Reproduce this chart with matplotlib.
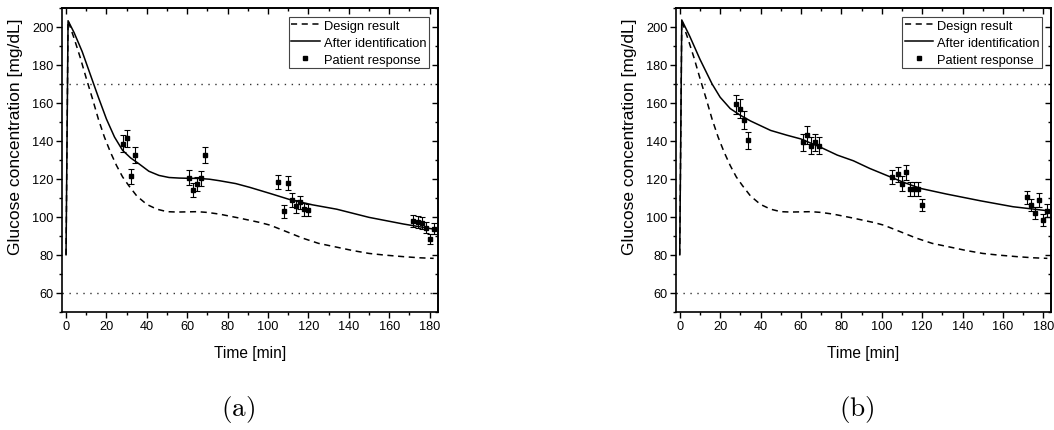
import matplotlib
matplotlib.use("Agg")
import matplotlib.pyplot as plt
from matplotlib.ticker import MultipleLocator
from matplotlib.lines import Line2D

plt.rcParams['font.family'] = ['Liberation Sans', 'DejaVu Sans']
plt.rcParams['mathtext.fontset'] = 'cm'

# ---------------- data ----------------
# Design result (same in both panels)
design_t = [0, 1, 4, 7, 10, 13, 16, 19, 22, 25, 28, 31, 35, 40, 45, 50, 55, 60, 65, 70,
            76, 85, 96, 101, 110, 117, 125, 134, 142, 150, 158, 167, 175, 182]
design_g = [80, 203.3, 194, 184, 173, 162.5, 151.5, 142, 134, 127, 121, 116.5, 111, 106.5,
            104, 102.7, 102.5, 102.6, 102.7, 102.3, 101.4, 99.5, 97, 95.6, 91.8, 88.8, 86,
            84, 82.2, 80.7, 79.8, 79, 78.4, 78.1]

# After identification, panel (a)
ident_a_t = [0, 1, 4, 8, 12, 16, 20, 24, 28, 32, 36, 41, 46, 51, 56, 60, 66, 71, 76, 84,
             91, 101, 111, 122, 134, 150, 167, 182]
ident_a_g = [80, 203.3, 197, 187, 175, 163, 151.5, 142, 135, 131, 128, 124, 121.8, 120.7,
             120.4, 120.3, 120.2, 119.8, 119, 117.5, 115.5, 112.3, 109, 106.3, 104, 99.7,
             96.2, 93.5]

# After identification, panel (b)
ident_b_t = [0, 1, 5, 10, 16, 20, 25, 30, 35, 45, 53, 60, 70, 78, 86, 94, 102, 110, 119,
             132, 149, 165, 182]
ident_b_g = [80, 203.7, 195, 183, 170, 163, 157, 153.5, 150.5, 145.5, 143, 141, 136.5,
             132.5, 129.5, 125.5, 122, 118.5, 115, 112, 108.4, 105.3, 103.2]

# Patient response measurement times (both panels)
patient_t = [28, 30, 32, 34, 61, 63, 65, 67, 69, 105, 108, 110, 112, 114, 116, 118, 120,
             172, 174, 176, 178, 180, 182]

patient_a_g = [138.6, 141.4, 121.3, 132.5, 120.5, 114, 117.2, 120.2, 132.5, 118.4, 102.8,
               117.7, 108.8, 105.5, 107.7, 103.9, 103.5, 97.6, 97.1, 96.9, 94.2, 88.3, 93.7]
patient_a_err = [4.4, 4.5, 3.9, 4.2, 3.9, 3.6, 3.8, 3.8, 4.2, 3.8, 3.3, 3.8, 3.5, 3.4, 3.4,
                 3.3, 3.3, 3.1, 3.1, 3.1, 3.0, 2.8, 3.0]

patient_b_g = [159.2, 157, 150.9, 140.2, 139.2, 143, 137.4, 139.2, 137.4, 121, 122.4, 117.5,
               123.4, 114.6, 114.5, 114.8, 106.2, 110.2, 106.2, 101.9, 108.9, 98.3, 103.2]
patient_b_err = [5.1, 5.0, 4.8, 4.5, 4.5, 4.6, 4.4, 4.5, 4.4, 3.9, 3.9, 3.8, 3.9, 3.7, 3.7,
                 3.7, 3.4, 3.5, 3.4, 3.3, 3.5, 3.1, 3.3]

limit_hi = 170
limit_lo = 60

x_ticks = [0, 20, 40, 60, 80, 100, 120, 140, 160, 180]
y_ticks = [60, 80, 100, 120, 140, 160, 180, 200]

# ---------------- figure ----------------
W, H = 1054, 431
fig = plt.figure(figsize=(W / 100, H / 100), dpi=100)

def px_axes(left, top, right, bottom):
    return fig.add_axes([left / W, 1 - bottom / H, (right - left) / W, (bottom - top) / H])

AX_T, AX_B = 9, 312.7
AX_W = 375.7
panels = [
    (px_axes(62, AX_T, 62 + AX_W, AX_B), ident_a_t, ident_a_g, patient_a_g, patient_a_err, '(a)', 238),
    (px_axes(675.7, AX_T, 675.7 + AX_W, AX_B), ident_b_t, ident_b_g, patient_b_g, patient_b_err, '(b)', 857),
]

for ax, it, ig, pg, pe, cap, capx in panels:
    ax.axhline(limit_hi, color='#333333', lw=1.0, ls=(0, (1, 4)))
    ax.axhline(limit_lo, color='#333333', lw=1.0, ls=(0, (1, 4)))
    ax.plot(design_t, design_g, color='black', lw=1.1, ls=(0, (4, 3)), label='Design result')
    ax.plot(it, ig, color='black', lw=1.1, label='After identification')
    ax.errorbar(patient_t, pg, yerr=pe, fmt='s', ms=3, color='black', ecolor='black',
                elinewidth=0.8, capsize=2.3, capthick=0.8, label='Patient response')

    ax.set_xlim(-2, 184)
    ax.set_ylim(50, 210)
    ax.set_xticks(x_ticks)
    ax.set_yticks(y_ticks)
    ax.xaxis.set_minor_locator(MultipleLocator(10))
    ax.yaxis.set_minor_locator(MultipleLocator(10))
    ax.tick_params(axis='both', which='major', direction='out', length=4, width=1.0,
                   labelsize=9.2, pad=2)
    ax.tick_params(axis='both', which='minor', direction='out', length=2.3, width=1.0)
    for sp in ax.spines.values():
        sp.set_linewidth(1.2)

    top = ax.secondary_xaxis('top')
    top.set_xticks(x_ticks)
    top.xaxis.set_minor_locator(MultipleLocator(10))
    top.tick_params(axis='x', which='major', direction='in', length=4, width=1.0, labeltop=False)
    top.tick_params(axis='x', which='minor', direction='in', length=2.3, width=1.0)
    top.spines['top'].set_linewidth(1.2)
    right = ax.secondary_yaxis('right')
    right.set_yticks(y_ticks)
    right.yaxis.set_minor_locator(MultipleLocator(10))
    right.tick_params(axis='y', which='major', direction='in', length=4, width=1.0, labelright=False)
    right.tick_params(axis='y', which='minor', direction='in', length=2.3, width=1.0)
    right.spines['right'].set_linewidth(1.2)

    ax.set_xlabel('Time [min]', fontsize=11.2, labelpad=9)
    ax.set_ylabel('Glucose concentration [mg/dL]', fontsize=12.5)
    ax.yaxis.set_label_coords(-39 / AX_W, (AX_B - 137) / (AX_B - AX_T))

    handles, labels = ax.get_legend_handles_labels()
    handles[2] = Line2D([], [], ls='none', marker='s', ms=3, color='black')
    leg = ax.legend(handles, labels, loc='upper right', fontsize=9.3, frameon=True,
                    fancybox=False, edgecolor='#444444', framealpha=1, borderpad=0.2,
                    labelspacing=0.38, handlelength=2.2, handletextpad=0.3,
                    borderaxespad=0.7)
    leg.get_frame().set_linewidth(0.8)

    fig.text(capx / W, 1 - 410 / H, r'$\mathrm{' + cap + '}$', fontsize=19.5,
             ha='center', va='center')

fig.savefig('out.png', dpi=100)
